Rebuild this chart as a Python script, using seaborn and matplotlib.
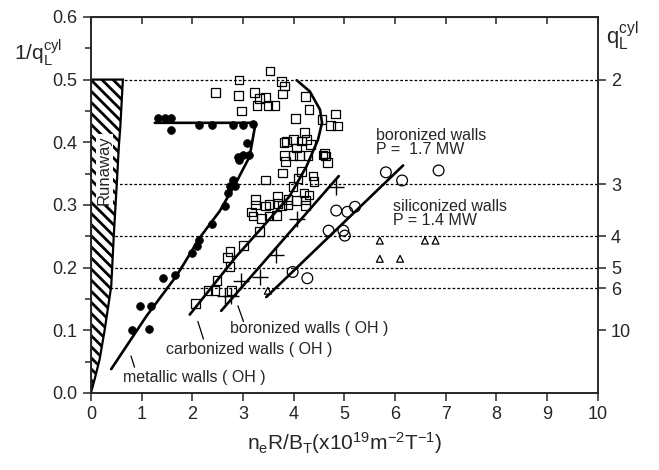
import numpy as np
import pandas as pd
import matplotlib
matplotlib.use("Agg")
import matplotlib.pyplot as plt
import seaborn as sns

# ---------------- data ----------------
met_x = [1.32, 1.47, 1.58, 1.58, 2.14, 2.39, 2.80, 3.00, 3.20, 3.08, 3.00, 3.12, 2.90, 2.92,
         2.80, 2.74, 2.84, 2.70, 2.65, 2.39, 2.14, 2.09, 2.00, 1.65, 1.42, 0.96, 1.19, 0.81, 1.14]
met_y = [0.438, 0.438, 0.438, 0.419, 0.427, 0.427, 0.427, 0.427, 0.429, 0.399, 0.380, 0.380, 0.377, 0.372,
         0.340, 0.330, 0.330, 0.319, 0.299, 0.269, 0.244, 0.234, 0.224, 0.188, 0.183, 0.138, 0.138, 0.100, 0.102]

carb_x = [3.53, 2.92, 3.76, 3.82, 2.46, 2.91, 3.23, 3.33, 3.45, 3.49, 3.63, 3.28, 3.78, 4.23, 2.97,
          4.30, 4.04, 4.56, 4.83, 4.73, 4.87, 4.21, 3.81, 3.86, 4.00, 4.15, 4.25, 4.33, 4.06, 3.82,
          3.99, 4.12, 4.28, 4.58, 4.63, 4.67, 4.61, 3.84, 3.78, 4.15, 4.09, 4.38, 4.40, 3.44, 3.99,
          3.25, 3.25, 3.45, 3.51, 3.68, 3.69, 3.89, 4.06, 4.20, 4.30, 4.23, 4.23, 3.89, 3.77, 3.17,
          3.20, 3.37, 3.51, 3.66, 3.33, 3.01, 2.74, 2.69, 2.74, 2.49, 2.31, 2.45, 2.77, 2.06]
carb_y = [0.514, 0.499, 0.497, 0.490, 0.479, 0.475, 0.479, 0.470, 0.471, 0.459, 0.459, 0.459, 0.477, 0.473, 0.450,
          0.452, 0.438, 0.436, 0.445, 0.427, 0.426, 0.416, 0.400, 0.401, 0.404, 0.402, 0.404, 0.396, 0.391, 0.379,
          0.379, 0.379, 0.379, 0.380, 0.378, 0.368, 0.382, 0.369, 0.351, 0.353, 0.342, 0.346, 0.337, 0.340, 0.329,
          0.309, 0.300, 0.298, 0.301, 0.313, 0.302, 0.309, 0.307, 0.319, 0.316, 0.308, 0.299, 0.300, 0.299, 0.289,
          0.282, 0.278, 0.282, 0.283, 0.258, 0.235, 0.226, 0.216, 0.202, 0.179, 0.163, 0.163, 0.163, 0.143]

boroh_x = [4.83, 4.06, 3.66, 3.33, 2.96, 2.64, 2.77]
boroh_y = [0.329, 0.277, 0.220, 0.185, 0.178, 0.154, 0.155]

bor17_x = [5.82, 6.14, 6.86, 4.84, 5.06, 5.21, 4.69, 4.98, 5.01, 3.98, 4.27]
bor17_y = [0.352, 0.339, 0.355, 0.291, 0.289, 0.297, 0.259, 0.259, 0.251, 0.193, 0.183]

sil_x = [5.70, 6.59, 6.80, 5.70, 6.10, 3.49]
sil_y = [0.243, 0.243, 0.243, 0.214, 0.214, 0.163]

# fitted / guide lines
met_line_x = [1.26, 3.25, 3.13, 2.86, 2.54, 2.14, 1.88, 1.68, 1.09, 0.40]
met_line_y = [0.431, 0.431, 0.377, 0.335, 0.290, 0.247, 0.212, 0.186, 0.122, 0.038]
carb_line_x = [4.06, 4.32, 4.52, 4.56, 4.48, 4.25, 3.92, 3.40, 2.87, 1.95]
carb_line_y = [0.499, 0.481, 0.452, 0.431, 0.404, 0.361, 0.314, 0.266, 0.218, 0.125]
boroh_line_x = [2.57, 4.89]
boroh_line_y = [0.131, 0.346]
bor17_line_x = [3.46, 6.16]
bor17_line_y = [0.153, 0.363]

runaway_x = [0.0, 0.07, 0.17, 0.27, 0.40, 0.45, 0.51, 0.55, 0.58, 0.63, 0.0]
runaway_y = [0.0, 0.021, 0.053, 0.100, 0.170, 0.250, 0.334, 0.393, 0.425, 0.500, 0.500]

q_values = [2, 3, 4, 5, 6]
q_ticks = [2, 3, 4, 5, 6, 10]

# ---------------- style ----------------
sns.set_style("ticks")
plt.rcParams["font.family"] = ["Liberation Sans", "DejaVu Sans"]
plt.rcParams["mathtext.fontset"] = "custom"
plt.rcParams["mathtext.rm"] = "Liberation Sans"
plt.rcParams["mathtext.it"] = "Liberation Sans"
plt.rcParams["mathtext.default"] = "regular"
plt.rcParams["hatch.linewidth"] = 2.0

fig = plt.figure(figsize=(6.59, 4.70), dpi=100)
ax = fig.add_axes([0.138, 0.164, 0.769, 0.800])
ax.set_xlim(0, 10)
ax.set_ylim(0, 0.6)

# dotted q lines
for q in q_values:
    ax.axhline(1.0 / q, color="black", lw=0.9, ls=(0, (2.2, 1.6)), zorder=1)

# runaway region
ax.fill(runaway_x, runaway_y, facecolor="white", edgecolor="black", hatch="\\\\\\",
        lw=1.6, zorder=2)
ax.text(0.27, 0.356, "Runaway", rotation=90, ha="center", va="center", fontsize=12,
        zorder=3, bbox=dict(facecolor="white", edgecolor="none", pad=0.5))

# lines
lw = 1.9
for lx, ly in [(met_line_x, met_line_y), (carb_line_x, carb_line_y),
               (boroh_line_x, boroh_line_y), (bor17_line_x, bor17_line_y)]:
    sns.lineplot(x=lx, y=ly, sort=False, estimator=None, color="black", lw=lw, ax=ax, zorder=4)

# markers
sns.scatterplot(x=met_x, y=met_y, marker="o", s=32, color="black", edgecolor="black", ax=ax, zorder=5)
sns.scatterplot(x=carb_x, y=carb_y, marker="s", s=38, facecolor="none", edgecolor="black",
                linewidth=0.9, ax=ax, zorder=5)
sns.scatterplot(x=boroh_x, y=boroh_y, marker="+", s=130, color="black", linewidth=1.0, ax=ax, zorder=5)
sns.scatterplot(x=bor17_x, y=bor17_y, marker="o", s=60, facecolor="none", edgecolor="black",
                linewidth=0.9, ax=ax, zorder=5)
sns.scatterplot(x=sil_x, y=sil_y, marker="^", s=24, facecolor="none", edgecolor="black",
                linewidth=0.9, ax=ax, zorder=5)

# annotations
fs = 11.5
ax.text(5.62, 0.423, "boronized walls\nP =  1.7 MW", fontsize=fs, ha="left", va="top", linespacing=0.95)
ax.text(5.96, 0.310, "siliconized walls\nP = 1.4 MW", fontsize=fs, ha="left", va="top", linespacing=0.95)
ax.text(2.74, 0.102, "boronized walls ( OH )", fontsize=fs, ha="left", va="center")
ax.text(1.49, 0.069, "carbonized walls ( OH )", fontsize=fs, ha="left", va="center")
ax.text(0.64, 0.024, "metallic walls ( OH )", fontsize=fs, ha="left", va="center")
leaders = [((0.79, 0.86), (0.059, 0.041)), ((2.11, 2.22), (0.114, 0.086)), ((2.90, 3.01), (0.139, 0.114))]
for lx, ly in leaders:
    ax.plot(lx, ly, color="black", lw=0.9)

# axes styling
for s in ax.spines.values():
    s.set_linewidth(1.2)
ax.set_xticks(range(0, 11))
ax.set_yticks(np.arange(0, 0.61, 0.1))
ax.set_yticklabels([f"{v:.1f}" for v in np.arange(0, 0.61, 0.1)])
ax.set_yticks(np.arange(0.05, 0.6, 0.1), minor=True)
ax.tick_params(axis="both", which="major", direction="out", length=6, width=1.1, labelsize=13)
ax.tick_params(axis="y", which="minor", direction="out", length=4, width=1.1)
ax.set_xlabel(r"$n_eR/B_T(x10^{19}m^{-2}T^{-1})$", fontsize=15, labelpad=5)
ax.set_ylabel("")

top = ax.secondary_xaxis("top")
top.set_xticks(range(0, 11))
top.set_xticklabels([])
top.tick_params(direction="in", length=5, width=1.1)

ax2 = ax.twinx()
ax2.set_ylim(0, 0.6)
ax2.set_yticks([1.0 / q for q in q_ticks])
ax2.set_yticklabels([str(q) for q in q_ticks])
ax2.tick_params(axis="y", direction="out", length=6, width=1.1, labelsize=13)
for s in ax2.spines.values():
    s.set_linewidth(1.2)

fig.text(14 / 659, 1 - 60 / 470, r"$1/q_L^{cyl}$", fontsize=15, ha="left", va="baseline")
fig.text(606 / 659, 1 - 44 / 470, r"$q_L^{cyl}$", fontsize=16, ha="left", va="baseline")

fig.savefig("out.png", dpi=100)
